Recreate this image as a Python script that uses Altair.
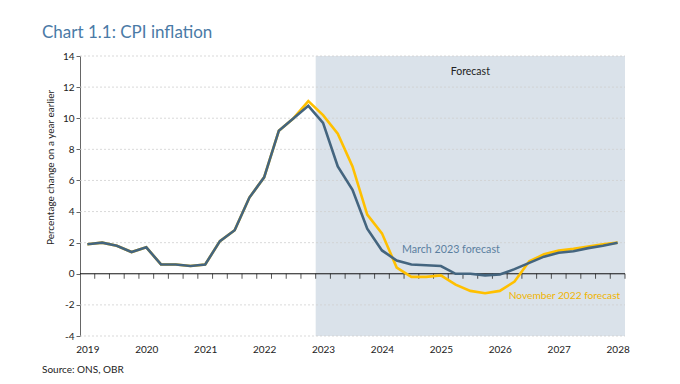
import altair as alt
import pandas as pd

# Quarterly periods 2019Q1 .. 2028Q1
quarter_labels = [f"{y}Q{q}" for y in range(2019, 2029) for q in range(1, 5)][:37]

march_2023 = [1.9, 2.0, 1.8, 1.4,
              1.7, 0.6, 0.6, 0.5,
              0.6, 2.1, 2.8, 4.9,
              6.2, 9.2, 10.0, 10.8,
              9.7, 6.9, 5.4, 2.9,
              1.5, 0.85, 0.6, 0.55,
              0.5, 0.0, 0.0, -0.1,
              -0.05, 0.3, 0.7, 1.1,
              1.35, 1.45, 1.65, 1.8,
              2.0]

nov_2022 = [1.9, 2.0, 1.8, 1.4,
            1.7, 0.6, 0.6, 0.5,
            0.6, 2.1, 2.8, 4.9,
            6.2, 9.2, 10.0, 11.1,
            10.2, 9.0, 6.9, 3.8,
            2.6, 0.4, -0.2, -0.2,
            -0.1, -0.7, -1.1, -1.25,
            -1.1, -0.5, 0.8, 1.25,
            1.5, 1.6, 1.75, 1.9,
            2.0]

year_ticks = list(range(2019, 2029))
y_ticks = [-4, -2, 0, 2, 4, 6, 8, 10, 12, 14]
grid_levels = [-4, -2, 2, 4, 6, 8, 10, 12, 14]
forecast_start = "2023Q1"

BLUE = "#44657f"
YELLOW = "#ffc000"
SHADE = "#dae2ea"
FONT = "Lato"


def qpos(label):
    return int(label[:4]) + (int(label[-1]) - 1) / 4


xs = [qpos(q) for q in quarter_labels]
x_min = xs[0] - 0.125
x_max = xs[-1] + 0.125

df_m = pd.DataFrame({"x": xs, "v": march_2023})
df_n = pd.DataFrame({"x": xs, "v": nov_2022})

xscale = alt.Scale(domain=[x_min, x_max], nice=False, zero=False)
yscale = alt.Scale(domain=[-4, 14], nice=False)

xaxis = alt.Axis(values=year_ticks, format="d", domain=False, ticks=False, grid=False,
                 labelFontSize=10, labelColor="#222", labelFont=FONT, labelPadding=8,
                 labelOverlap=False, title=None)
yaxis = alt.Axis(values=y_ticks, domain=True, domainColor="#666", ticks=True, tickSize=4,
                 tickColor="#666", grid=False, labelFontSize=10, labelColor="#222",
                 labelFont=FONT, labelPadding=2, labelOverlap=False,
                 labelExpr="'' + datum.value",
                 title="Percentage change on a year earlier", titleFontSize=10,
                 titleFontWeight="normal", titleFont=FONT, titleColor="#222",
                 titlePadding=7, titleY=111, titleAlign="center")


def X(field):
    return alt.X(field, scale=xscale, axis=xaxis)


def Y(field):
    return alt.Y(field, scale=yscale, axis=yaxis)


shade = alt.Chart(pd.DataFrame({"x": [qpos(forecast_start) - 0.125], "x2": [x_max]})).mark_rect(
    color=SHADE).encode(
    x=X("x:Q"),
    x2="x2:Q",
    y=alt.value(0),
    y2=alt.value(280),
)

grid = alt.Chart(pd.DataFrame({"g": grid_levels})).mark_rule(
    color="#cfcfcf", strokeDash=[2, 2], strokeWidth=0.8).encode(
    y=Y("g:Q"),
    x=alt.value(0), x2=alt.value(545),
)

zero = alt.Chart(pd.DataFrame({"g": [0]})).mark_rule(color="#111", strokeWidth=1).encode(
    y=Y("g:Q"),
    x=alt.value(0), x2=alt.value(545),
)

qticks = alt.Chart(pd.DataFrame({"x": [x + 0.125 for x in xs], "v": [0] * len(xs)})).mark_tick(
    orient="vertical", size=5, color="#111", thickness=1, yOffset=2.5).encode(
    x=X("x:Q"),
    y=Y("v:Q"),
)

line_n = alt.Chart(df_n).mark_line(color=YELLOW, strokeWidth=2.6).encode(
    x=X("x:Q"), y=Y("v:Q"))
line_m = alt.Chart(df_m).mark_line(color=BLUE, strokeWidth=2.6).encode(
    x=X("x:Q"), y=Y("v:Q"))

labels = pd.DataFrame({
    "x": [2025.5, 2024.34, 2026.15],
    "v": [13.0, 1.5, -1.4],
    "text": ["Forecast", "March 2023 forecast", "November 2022 forecast"],
    "color": ["#222222", "#5a7fa0", "#f0b400"],
    "size": [10.5, 10.7, 10.2],
})
txt_center = alt.Chart(labels.iloc[[0]]).mark_text(
    fontSize=10.5, font=FONT, align="center", baseline="middle").encode(
    x=X("x:Q"), y=Y("v:Q"),
    text="text:N", color=alt.Color("color:N", scale=None))
txt_m = alt.Chart(labels.iloc[[1]]).mark_text(
    fontSize=10.7, font=FONT, align="left", baseline="middle").encode(
    x=X("x:Q"), y=Y("v:Q"),
    text="text:N", color=alt.Color("color:N", scale=None))
txt_n = alt.Chart(labels.iloc[[2]]).mark_text(
    fontSize=10.2, font=FONT, align="left", baseline="middle").encode(
    x=X("x:Q"), y=Y("v:Q"),
    text="text:N", color=alt.Color("color:N", scale=None))

source = alt.Chart(pd.DataFrame({"s": ["Source: ONS, OBR"]})).mark_text(
    fontSize=10, font=FONT, align="left", baseline="middle", color="#222").encode(
    x=alt.value(-38), y=alt.value(314), text="s:N")

chart = alt.layer(shade, grid, zero, qticks, line_n, line_m, txt_center, txt_m, txt_n,
                  source).properties(
    width=545, height=280,
    autosize=alt.AutoSizeParams(type="none"),
    padding={"left": 72, "top": 48, "right": 47, "bottom": 40},
    title=alt.TitleParams("Chart 1.1: CPI inflation", anchor="start", frame="group", dx=-38,
                          offset=9, fontSize=17, font=FONT, fontWeight="normal",
                          color="#4a7aa6"),
).configure_view(stroke=None)

chart.save("out.html", embed_options={"renderer": "svg", "actions": False})
